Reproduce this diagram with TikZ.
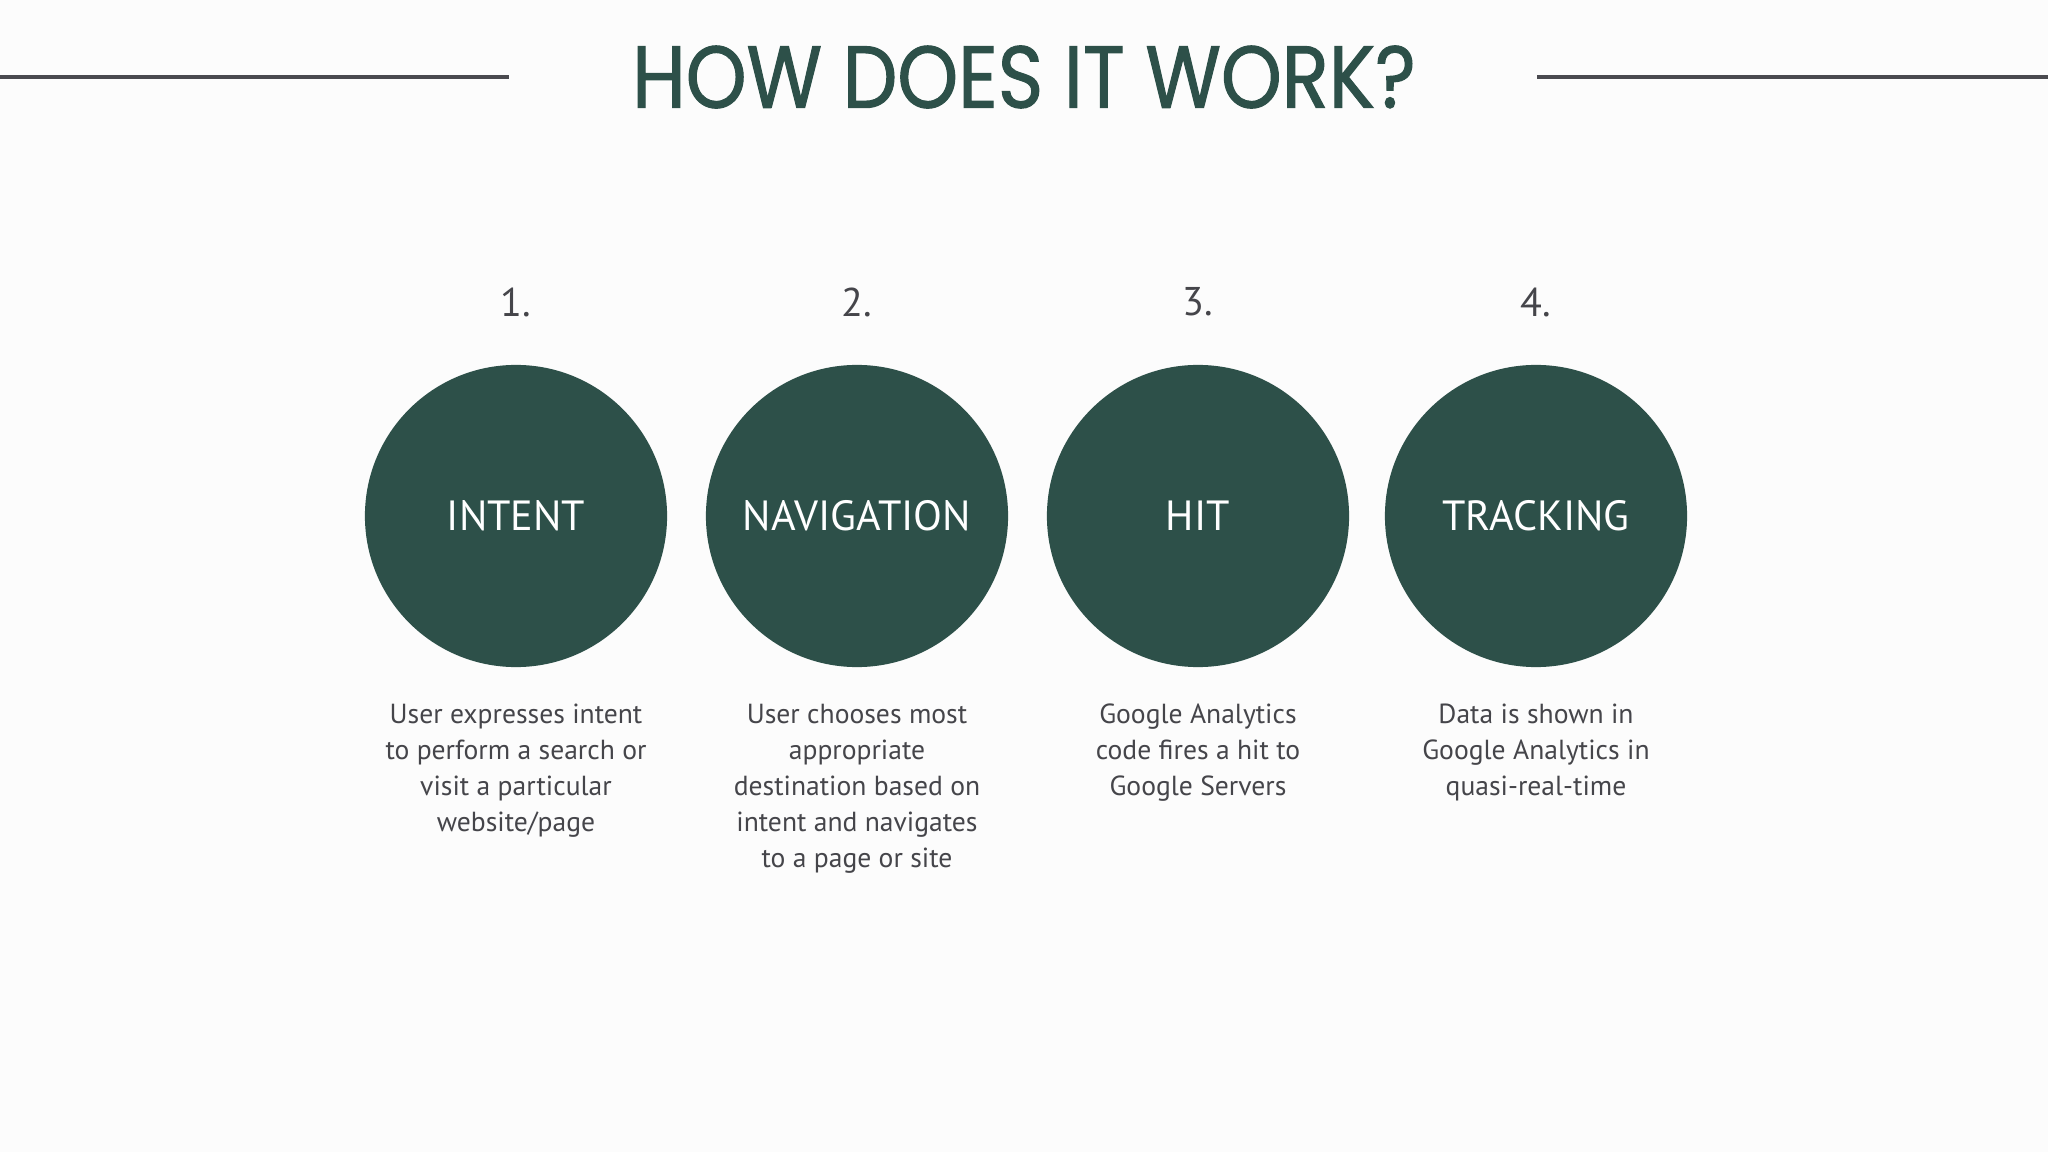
\documentclass[tikz,border=0pt]{standalone}
\usepackage{fontspec}
\setmainfont{PT Sans}
\newfontfamily\titlefont[FakeStretch=0.88,FakeBold=1.2]{Poppins}
\definecolor{bggray}{HTML}{FCFCFC}
\definecolor{dgreen}{HTML}{2D5049}
\definecolor{tgray}{HTML}{45454A}
\definecolor{lgray}{HTML}{4A4A4F}
\tikzset{
  stepcircle/.style={circle, fill=dgreen, minimum size=3.02cm, inner sep=0pt, text=white, font=\fontsize{12}{14}\selectfont},
  numlabel/.style={text=tgray, font=\fontsize{11.4}{13}\selectfont, inner sep=0pt},
  desc/.style={text=tgray, font=\fontsize{7.85}{10.25}\selectfont, align=center, inner sep=0pt, anchor=north},
  rule/.style={draw=lgray, line width=1.2pt}
}
\begin{document}
\begin{tikzpicture}[x=0.01cm, y=-0.01cm]
\fill[bggray] (0,0) rectangle (2048,1152);
\useasboundingbox (0,0) rectangle (2048,1152);
\node[text=dgreen, font=\titlefont\fontsize{25}{30}\selectfont, inner sep=0pt] (title) at (1024,77) {HOW DOES IT WORK?};
\coordinate (l1) at (0,77);
\coordinate (l2) at (509,77);
\coordinate (r1) at (1537,77);
\coordinate (r2) at (2048,77);
\draw[rule] (l1) -- (l2);
\draw[rule] (r1) -- (r2);
\foreach \x/\n/\lab/\txt in {
  516/1/INTENT/{User expresses intent\\to perform a search or\\visit a particular\\website/page},
  857/2/NAVIGATION/{User chooses most\\appropriate\\destination based on\\intent and navigates\\to a page or site},
  1198/3/HIT/{Google Analytics\\code fires a hit to\\Google Servers},
  1536/4/TRACKING/{Data is shown in\\Google Analytics in\\quasi-real-time}}
{
  \node[numlabel] (num\n) at (\x,302) {\n.};
  \node[stepcircle] (c\n) at (\x,516) {\lab};
  \node[desc] (d\n) at (\x,703) {\txt};
}
\end{tikzpicture}
\end{document}
